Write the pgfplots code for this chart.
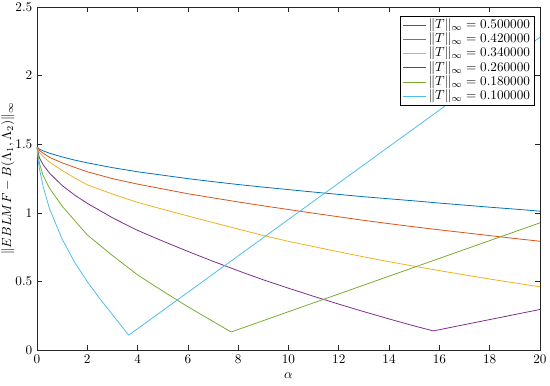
\documentclass[border=0pt]{standalone}
\usepackage{pgfplots}
\pgfplotsset{compat=1.18}
\definecolor{c1}{rgb}{0,0.447,0.741}
\definecolor{c2}{rgb}{0.850,0.325,0.098}
\definecolor{c3}{rgb}{0.929,0.694,0.125}
\definecolor{c4}{rgb}{0.494,0.184,0.556}
\definecolor{c5}{rgb}{0.466,0.674,0.188}
\definecolor{c6}{rgb}{0.301,0.745,0.933}
\begin{document}
\begin{tikzpicture}
\begin{axis}[
  scale only axis, width=381pt, height=260pt,
  xmin=0, xmax=20, ymin=0, ymax=2.5,
  xtick={0,2,...,20}, ytick={0,0.5,1,1.5,2,2.5},
  tick align=inside, major tick length=3.8pt,
  axis line style={color=black!85, line width=0.45pt},
  every tick/.style={color=black!85, line width=0.45pt},
  tick label style={font=\normalsize},
  xlabel={$\alpha$},
  ylabel={$\|EBLMF-B(\Lambda_1,\Lambda_2)\|_\infty$},
  xlabel style={at={(axis description cs:0.5,-0.073)}, anchor=center},
  ylabel style={at={(axis description cs:-0.0577,0.5)}, anchor=center},
  legend style={at={(0.99,0.975)}, anchor=north east, draw=black, line width=0.45pt,
    font=\normalsize, row sep=0pt, inner sep=1.5pt,
    nodes={text height=7.6pt, text depth=2.6pt, inner ysep=0.3pt, inner xsep=2pt}},
  legend image post style={line width=0.6pt},
  legend cell align=left,
  every axis plot/.append style={line width=0.6pt},
]
\addplot[c1] coordinates {(0,1.48)(0.1,1.465)(0.25,1.452)(0.5,1.435)(1,1.408)(1.5,1.385)(2,1.365)(3,1.33)(4,1.30)(5,1.275)(6,1.25)(7,1.228)(8,1.207)(9,1.188)(10,1.170)(11,1.152)(12,1.135)(13,1.118)(14,1.103)(15,1.088)(16,1.072)(17,1.057)(18,1.042)(19,1.028)(20,1.013)};
\addlegendentry{$\|T\|_\infty = 0.500000$}
\addplot[c2] coordinates {(0,1.48)(0.1,1.455)(0.25,1.435)(0.5,1.405)(1,1.365)(1.5,1.332)(2,1.30)(3,1.25)(4,1.21)(5,1.175)(6,1.14)(7,1.11)(8,1.08)(9,1.052)(10,1.025)(11,0.998)(12,0.972)(13,0.946)(14,0.922)(15,0.899)(16,0.877)(17,0.856)(18,0.835)(19,0.814)(20,0.794)};
\addlegendentry{$\|T\|_\infty = 0.420000$}
\addplot[c3] coordinates {(0,1.48)(0.1,1.44)(0.25,1.41)(0.5,1.37)(1,1.31)(1.5,1.255)(2,1.205)(3,1.138)(4,1.077)(5,1.027)(6,0.978)(7,0.93)(8,0.883)(9,0.836)(10,0.793)(11,0.755)(12,0.717)(13,0.68)(14,0.645)(15,0.612)(16,0.58)(17,0.549)(18,0.519)(19,0.49)(20,0.462)};
\addlegendentry{$\|T\|_\infty = 0.340000$}
\addplot[c4] coordinates {(0,1.48)(0.1,1.40)(0.25,1.35)(0.5,1.29)(1,1.20)(1.5,1.13)(2,1.07)(3,0.965)(4,0.873)(5,0.795)(6,0.72)(7,0.648)(8,0.579)(9,0.513)(10,0.452)(11,0.393)(12,0.336)(13,0.281)(14,0.228)(15,0.177)(15.76,0.141)(20,0.297)};
\addlegendentry{$\|T\|_\infty = 0.260000$}
\addplot[c5] coordinates {(0,1.48)(0.1,1.36)(0.25,1.27)(0.5,1.18)(1,1.05)(1.5,0.945)(2,0.84)(3,0.69)(4,0.549)(5,0.431)(6,0.317)(7,0.21)(7.72,0.133)(20,0.928)};
\addlegendentry{$\|T\|_\infty = 0.180000$}
\addplot[c6] coordinates {(0,1.48)(0.05,1.38)(0.1,1.32)(0.25,1.19)(0.5,1.03)(1,0.81)(1.5,0.64)(2,0.50)(2.5,0.375)(3,0.26)(3.3,0.19)(3.65,0.11)(20,2.28)};
\addlegendentry{$\|T\|_\infty = 0.100000$}
\end{axis}
\pgfresetboundingbox
\path[use as bounding box] ([xshift=-28pt,yshift=-26.5pt]current axis.south west) rectangle ([xshift=7.6pt,yshift=5.3pt]current axis.north east);
\end{tikzpicture}
\end{document}
